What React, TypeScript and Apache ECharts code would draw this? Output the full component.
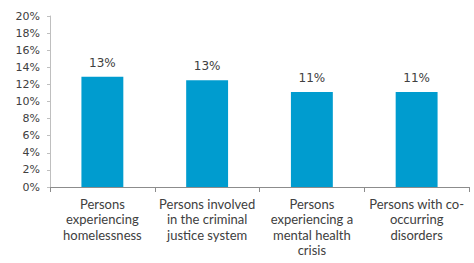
import React, { useEffect, useRef } from "react";
import * as echarts from "echarts";

const categories = [
  "Persons\nexperiencing\nhomelessness",
  "Persons involved\nin the criminal\njustice system",
  "Persons\nexperiencing a\nmental health\ncrisis",
  "Persons with co-\noccurring\ndisorders",
];
const values = [12.9, 12.5, 11.1, 11.1];
const valueLabels = ["13%", "13%", "11%", "11%"];

export default function App() {
  const ref = useRef<HTMLDivElement>(null);
  useEffect(() => {
    document.body.style.margin = "0";
    const chart = echarts.init(ref.current!, null, { renderer: "svg" });
    const font = "Lato, 'Noto Sans', sans-serif";
    const numFont = "'DejaVu Sans', sans-serif";
    chart.setOption({
      animation: false,
      grid: { left: 50, right: 5, top: 16, bottom: 76 },
      xAxis: {
        type: "category",
        data: categories,
        axisLine: { lineStyle: { color: "#8c8c8c", width: 1 } },
        axisTick: { show: true, length: 5, lineStyle: { color: "#8c8c8c" } },
        axisLabel: {
          interval: 0,
          color: "#404040",
          fontSize: 13,
          fontFamily: font,
          lineHeight: 15.5,
          margin: 9,
        },
      },
      yAxis: {
        type: "value",
        min: 0,
        max: 20,
        interval: 2,
        splitLine: { show: false },
        axisLine: { show: true, lineStyle: { color: "#bfbfbf" } },
        axisTick: { show: true, length: 3, lineStyle: { color: "#bfbfbf" } },
        axisLabel: {
          formatter: "{value}%",
          color: "#404040",
          fontSize: 11,
          fontFamily: numFont,
          margin: 10,
        },
      },
      series: [
        {
          type: "bar",
          data: values,
          barWidth: "40%",
          itemStyle: { color: "#009ccf" },
          label: {
            show: true,
            position: "top",
            distance: 8,
            color: "#404040",
            fontSize: 12,
            fontFamily: numFont,
            formatter: (p: any) => valueLabels[p.dataIndex],
          },
        },
      ],
    });
    return () => chart.dispose();
  }, []);
  return <div ref={ref} style={{ width: 474, height: 263 }} />;
}
